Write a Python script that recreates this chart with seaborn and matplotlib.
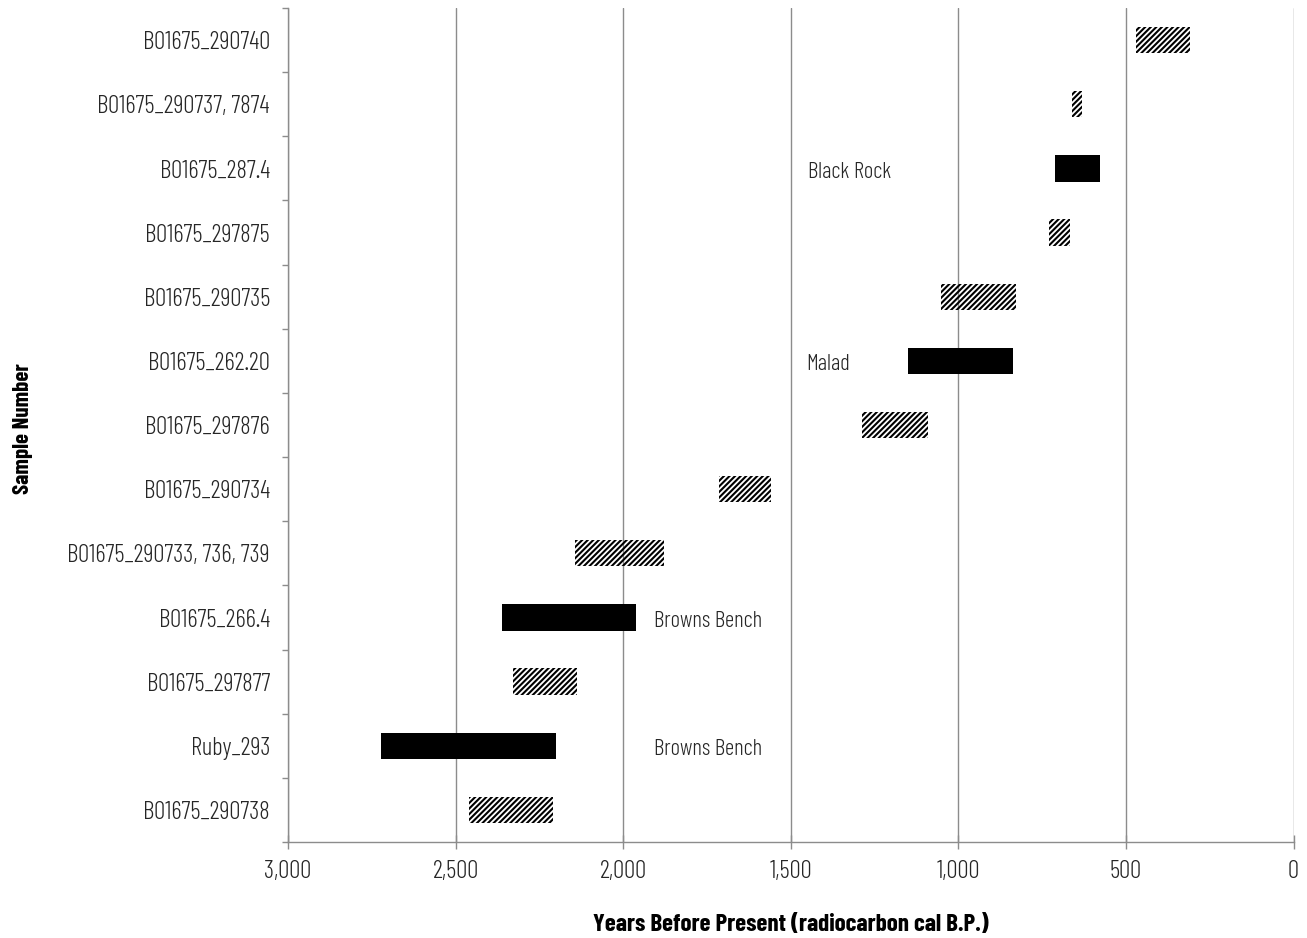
import matplotlib
matplotlib.use("Agg")
import matplotlib.pyplot as plt
import seaborn as sns
import pandas as pd
from matplotlib.ticker import FuncFormatter, FixedLocator

# ---- data ----
samples = [
    "B01675_290740", "B01675_290737, 7874", "B01675_287.4", "B01675_297875",
    "B01675_290735", "B01675_262.20", "B01675_297876", "B01675_290734",
    "B01675_290733, 736, 739", "B01675_266.4", "B01675_297877", "Ruby_293",
    "B01675_290738",
]
oldest_bp = [470, 661, 712, 730, 1052, 1151, 1288, 1715, 2145, 2363, 2330, 2723, 2461]
youngest_bp = [309, 631, 578, 667, 828, 837, 1091, 1560, 1879, 1963, 2139, 2201, 2210]
bar_kind = ["date", "date", "source", "date", "date", "source", "date", "date",
            "date", "source", "date", "source", "date"]
source_labels = {
    "B01675_287.4": "Black Rock",
    "B01675_262.20": "Malad",
    "B01675_266.4": "Browns Bench",
    "Ruby_293": "Browns Bench",
}
x_ticks = [3000, 2500, 2000, 1500, 1000, 500, 0]

# ---- style ----
sns.set_theme(style="white")
plt.rcParams["font.family"] = ["Barlow Condensed", "DejaVu Sans"]
plt.rcParams["font.weight"] = 300
plt.rcParams["hatch.linewidth"] = 1.5

GRID = "#8c8c8c"
TXT = "#262626"
FS_TICK = 18
FS_ANN = 16.5

fig = plt.figure(figsize=(13.07, 9.38), dpi=100)
ax = fig.add_axes([288 / 1307, 1 - 842 / 938, (1293.5 - 288) / 1307, (842 - 8) / 938])

df = pd.DataFrame({
    "sample": samples,
    "span": [o - y for o, y in zip(oldest_bp, youngest_bp)],
})
sns.barplot(data=df, y="sample", x="span", order=samples, orient="h",
            width=0.41, errorbar=None, color="black", ax=ax, zorder=3)

for patch, start, kind in zip(ax.patches, youngest_bp, bar_kind):
    patch.set_x(start)
    patch.set_linewidth(0)
    if kind == "date":
        patch.set_facecolor("none")
        patch.set_edgecolor("black")
        patch.set_hatch("//////")
    else:
        patch.set_facecolor("black")
        patch.set_edgecolor("black")

# source annotations
label_x = {"Black Rock": 1449, "Malad": 1455, "Browns Bench": 1909}
for i, s in enumerate(samples):
    if s in source_labels:
        name = source_labels[s]
        ax.text(label_x[name], i + 0.06, name, ha="left", va="center",
                fontsize=FS_ANN, color=TXT, fontweight=300)

ax.set_xlim(3000, 0)
ax.set_ylim(len(samples) - 0.5, -0.5)
ax.xaxis.set_major_locator(FixedLocator(x_ticks))
ax.xaxis.set_major_formatter(FuncFormatter(lambda v, p: f"{v:,.0f}"))
ax.set_axisbelow(True)
ax.xaxis.grid(True, color=GRID, linewidth=1.0)
ax.yaxis.grid(False)

for side in ["top", "right"]:
    ax.spines[side].set_visible(False)
for side in ["left", "bottom"]:
    ax.spines[side].set_color(GRID)
    ax.spines[side].set_linewidth(1.0)

ax.tick_params(axis="x", which="major", direction="inout", length=10, width=1.0,
               color=GRID, labelsize=FS_TICK, labelcolor=TXT, pad=8, bottom=True)
ax.tick_params(axis="y", which="major", length=0, labelsize=FS_TICK,
               labelcolor=TXT, pad=13, left=True)
ax.yaxis.set_minor_locator(FixedLocator([i - 0.5 for i in range(len(samples) + 1)]))
ax.tick_params(axis="y", which="minor", direction="out", length=4.5, width=1.0,
               color=GRID, left=True)
for lbl in ax.get_xticklabels() + ax.get_yticklabels():
    lbl.set_fontweight(300)

ax.set_xlabel("Years Before Present (radiocarbon cal B.P.)", fontsize=18,
              fontweight="bold", color="black", labelpad=22)
ax.set_ylabel("")
fig.text(23 / 1307, 1 - 429 / 938, "Sample Number", rotation=90, ha="center",
         va="center", fontsize=16.5, fontweight="bold", color="black")

fig.savefig("out.png", dpi=100)
